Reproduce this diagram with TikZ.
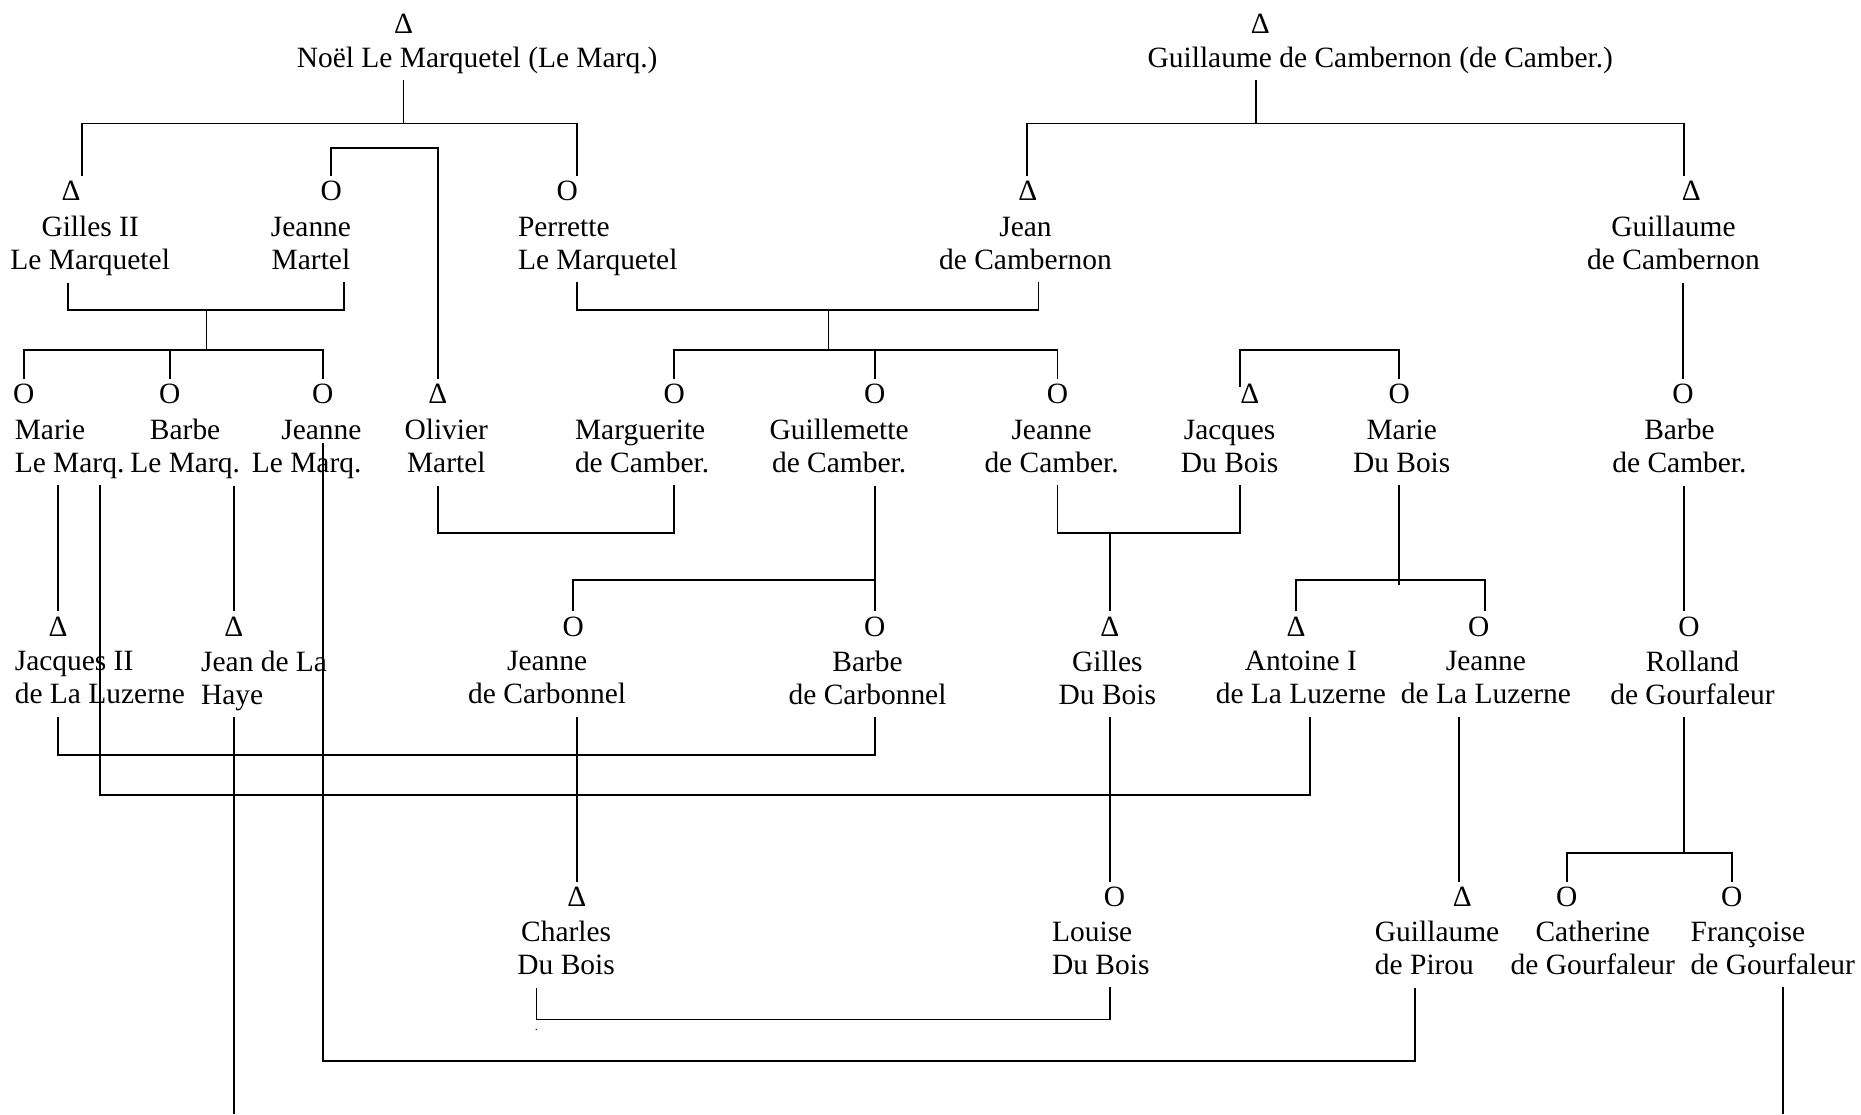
\documentclass[tikz,border=0pt]{standalone}
\usepackage{fontspec}
\setmainfont{Liberation Serif}
\usepackage{tikz}
\tikzset{
    every node/.style={font=\fontsize{12}{13.5}\selectfont},
    sexsym/.style={anchor=base, inner sep=2pt},
    pname/.style={align=center, inner sep=1pt, execute at begin node=\strut, execute at end node=\strut},
    kin/.style={line width=0.75pt}
}

\begin{document}
\begin{tikzpicture}[x=0.17mm, y=-0.17mm]
        \useasboundingbox (0,0) rectangle (1568,939);
        \node[sexsym] (noels) at (340,28) {Δ};
        \node[pname] (noel) at (402,51) {Noël Le Marquetel (Le Marq.)};
        \node[sexsym] (guics) at (1062,28) {Δ};
        \node[pname] (guic) at (1163,51) {Guillaume de Cambernon (de Camber.)};

        \node[sexsym] (gils) at (60,169) {Δ};
        \node[pname] (gil) at (76,209) {Gilles II\\Le Marquetel};
        \node[sexsym] (jmarts) at (279,169) {O};
        \node[pname] (jmart) at (262,209) {Jeanne\\Martel};
        \node[sexsym] (perrs) at (478,169) {O};
        \node[pname, align=left, anchor=west] (perr) at (434,209) {Perrette\\Le Marquetel};
        \node[sexsym] (jeans) at (866,169) {Δ};
        \node[pname] (jean) at (864,209) {Jean\\de Cambernon};
        \node[sexsym] (guils) at (1425,169) {Δ};
        \node[pname] (guil) at (1410,209) {Guillaume\\de Cambernon};

        \node[sexsym] (maries) at (20,340) {O};
        \node[pname, align=left, anchor=west] (marie) at (10,380) {Marie\\Le Marq.};
        \node[sexsym] (barbes) at (143,340) {O};
        \node[pname] (barbe) at (156,380) {Barbe\\Le Marq.};
        \node[sexsym] (jeannes) at (272,340) {O};
        \node[pname, align=right, anchor=east] (jeanne) at (307,380) {Jeanne\\Le Marq.};
        \node[sexsym] (olivs) at (369,340) {Δ};
        \node[pname] (oliv) at (376,380) {Olivier\\Martel};
        \node[sexsym] (margs) at (568,340) {O};
        \node[pname, align=left, anchor=west] (marg) at (482,380) {Marguerite\\de Camber.};
        \node[sexsym] (gmets) at (737,340) {O};
        \node[pname] (gmet) at (707,380) {Guillemette\\de Camber.};
        \node[sexsym] (jcambs) at (891,340) {O};
        \node[pname] (jcamb) at (886,380) {Jeanne\\de Camber.};
        \node[sexsym] (jacqs) at (1053,340) {Δ};
        \node[pname] (jacq) at (1036,380) {Jacques\\Du Bois};
        \node[sexsym] (mdbs) at (1179,340) {O};
        \node[pname] (mdb) at (1181,380) {Marie\\Du Bois};
        \node[sexsym] (bcambs) at (1418,340) {O};
        \node[pname] (bcamb) at (1415,380) {Barbe\\de Camber.};

        \node[sexsym] (jluzs) at (49,536) {Δ};
        \node[pname, align=left, anchor=west] (jluz) at (10,575) {Jacques II\\de La Luzerne};
        \node[sexsym] (hayes) at (197,536) {Δ};
        \node[pname, align=left, anchor=west] (haye) at (167,575) {Jean de La\\Haye};
        \node[sexsym] (jcarbs) at (483,536) {O};
        \node[pname] (jcarb) at (461,575) {Jeanne\\de Carbonnel};
        \node[sexsym] (bcarbs) at (737,536) {O};
        \node[pname] (bcarb) at (731,575) {Barbe\\de Carbonnel};
        \node[sexsym] (gdbs) at (935,536) {Δ};
        \node[pname] (gdb) at (933,575) {Gilles\\Du Bois};
        \node[sexsym] (ants) at (1092,536) {Δ};
        \node[pname] (ant) at (1096,575) {Antoine I\\de La Luzerne};
        \node[sexsym] (jlluzs) at (1246,536) {O};
        \node[pname] (jlluz) at (1252,575) {Jeanne\\de La Luzerne};
        \node[sexsym] (rolls) at (1423,536) {O};
        \node[pname] (roll) at (1426,575) {Rolland\\de Gourfaleur};

        \node[sexsym] (charls) at (486,764) {Δ};
        \node[pname] (charl) at (477,803) {Charles\\Du Bois};
        \node[sexsym] (lous) at (939,764) {O};
        \node[pname, align=left, anchor=west] (lou) at (884,803) {Louise\\Du Bois};
        \node[sexsym] (pirous) at (1232,764) {Δ};
        \node[pname, align=left, anchor=west] (pirou) at (1156,803) {Guillaume\\de Pirou};
        \node[sexsym] (caths) at (1320,764) {O};
        \node[pname] (cath) at (1342,803) {Catherine\\de Gourfaleur};
        \node[sexsym] (frans) at (1459,764) {O};
        \node[pname, align=left, anchor=west] (fran) at (1422,803) {Françoise\\de Gourfaleur};
        \node[inner sep=0pt, font=\tiny] (dot) at (452,868) {.};

        \draw[kin] (noels |- noel.south) -- (noels |- 0,104);
        \draw[kin] (69,0 |- gils.north) |- (486,104) -- (486,0 |- perrs.north);
        \draw[kin] (1058,0 |- guic.south) -- (1058,104);
        \draw[kin] (865,0 |- jeans.north) |- (1419,104) -- (1419,0 |- guils.north);
        \draw[kin] (jmarts.north) |- (olivs |- 0,125) -- (olivs.north);
        \draw[kin] (57,0 |- gil.south) |- (290,261) -- (290,0 |- jmart.south);
        \draw[kin] (174,261) -- (174,295);
        \draw[kin] (maries.north) |- (jeannes |- 0,295) -- (jeannes.north);
        \draw[kin] (barbes |- 0,295) -- (barbes.north);
        \draw[kin] (486,0 |- perr.south) |- (875,261) -- (875,0 |- jean.south);
        \draw[kin] (698,261) -- (698,295);
        \draw[kin] (margs.north) |- (jcambs |- 0,295) -- (jcambs.north);
        \draw[kin] (gmets |- 0,295) -- (gmets.north);
        \draw[kin] (bcambs |- guil.south) -- (bcambs.north);
        \draw[kin] (1045,326) |- (mdbs |- 0,295) -- (mdbs.north);

        \draw[kin] (jluzs |- marie.south) -- (jluzs.north);
        \draw[kin] (84,0 |- marie.south) |- (1104,670) -- (1104,0 |- ant.south);
        \draw[kin] (hayes |- barbe.south) -- (hayes.north);
        \draw[kin] (hayes |- haye.south) -- (hayes |- 0,939);
        \draw[kin] (jeannes |- 0,373) |- (1192,894) -- (1192,0 |- pirou.south);
        \draw[kin] (olivs |- oliv.south) |- (margs |- 0,449) -- (margs |- marg.south);
        \draw[kin] (bcarbs |- gmet.south) -- (bcarbs.north);
        \draw[kin] (jcarbs.north) |- (bcarbs |- 0,489);
        \draw[kin] (jcambs |- jcamb.south) |- (1045,449) -- (1045,0 |- jacq.south);
        \draw[kin] (gdbs |- 0,449) -- (gdbs.north);
        \draw[kin] (mdbs |- mdb.south) -- (mdbs |- 0,493);
        \draw[kin] (ants.north) |- (1251,489) -- (1251,0 |- jlluzs.north);
        \draw[kin] (1419,0 |- bcamb.south) -- (1419,0 |- rolls.north);

        \draw[kin] (jluzs |- jluz.south) |- (bcarbs |- 0,636) -- (bcarbs |- bcarb.south);
        \draw[kin] (charls |- jcarb.south) -- (charls.north);
        \draw[kin] (gdbs |- gdb.south) -- (gdbs |- lous.north);
        \draw[kin] (1229,0 |- jlluz.south) -- (1229,0 |- pirous.north);
        \draw[kin] (1419,0 |- roll.south) -- (1419,719);
        \draw[kin] (caths.north) |- (frans |- 0,719) -- (frans.north);
        \draw[kin] (452,0 |- charl.south) |- (gdbs |- 0,859) -- (gdbs |- lou.south);
        \draw[kin] (1502,0 |- fran.south) -- (1502,939);
    \end{tikzpicture}
\end{document}
